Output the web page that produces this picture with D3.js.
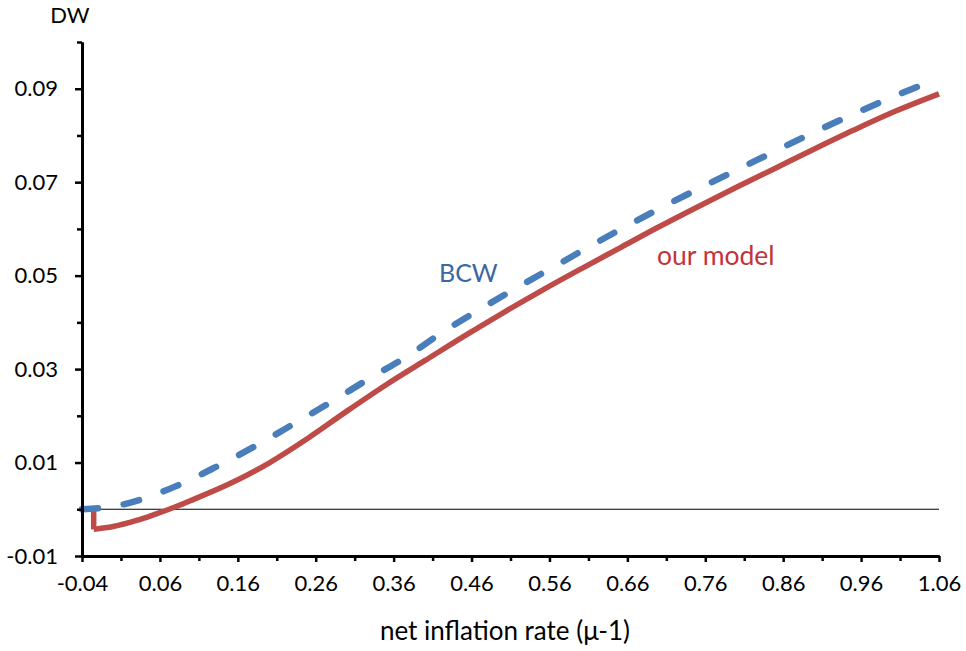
<!DOCTYPE html>
<html>
<head>
<meta charset="utf-8">
<script src="https://cdn.jsdelivr.net/npm/d3@7"></script>
<style>
  body { margin: 0; background: #fff; }
  text { font-family: Lato, "Open Sans", sans-serif; fill: #000; }
</style>
</head>
<body>
<div id="chart"></div>
<script>
// our model (red, solid)
var ourX = [-0.025, -0.025, 0, 0.03, 0.05, 0.07, 0.1, 0.15, 0.2, 0.25, 0.3, 0.35, 0.4, 0.45,
  0.5, 0.55, 0.6, 0.65, 0.7, 0.75, 0.8, 0.85, 0.9, 0.95, 1.0, 1.06];
var ourDW = [0, -0.0043, -0.0037, -0.0024, -0.0013, -0.0001, 0.0019, 0.0055, 0.0099, 0.0152, 0.0210,
  0.0266, 0.0318, 0.0370, 0.0420, 0.0468, 0.0514, 0.0559, 0.0604, 0.0647, 0.0689, 0.0730,
  0.0771, 0.0811, 0.0849, 0.0889];

// BCW (blue, dashed)
var bcwX = [-0.04, -0.02, 0, 0.03, 0.08, 0.13, 0.18, 0.23, 0.28, 0.33, 0.38, 0.42, 0.47, 0.52,
  0.57, 0.61, 0.66, 0.71, 0.76, 0.81, 0.86, 0.91, 0.96, 1.01, 1.06];
var bcwDW = [0, 0.0002, 0.0006, 0.0018, 0.0049, 0.0089, 0.0133, 0.0181, 0.0230, 0.0281, 0.0330,
  0.0376, 0.0427, 0.0476, 0.0523, 0.0561, 0.0607, 0.0651, 0.0693, 0.0734, 0.0775, 0.0815,
  0.0853, 0.0889, 0.0922];

// ticks
var xMajor = [-0.04, 0.06, 0.16, 0.26, 0.36, 0.46, 0.56, 0.66, 0.76, 0.86, 0.96, 1.06];
var xMinor = [0.01, 0.11, 0.21, 0.31, 0.41, 0.51, 0.61, 0.71, 0.81, 0.91, 1.01];
var yMajor = [-0.01, 0.01, 0.03, 0.05, 0.07, 0.09];
var yMinor = [0, 0.02, 0.04, 0.06, 0.08, 0.1];

var width = 966,
  height = 651,
  margin = { top: 42, right: 27, bottom: 95, left: 82 };

var x = d3.scaleLinear().domain([-0.04, 1.06]).range([margin.left, width - margin.right]);
var y = d3.scaleLinear().domain([-0.01, 0.1]).range([height - margin.bottom, margin.top]);

var svg = d3.select("#chart")
  .append("svg")
  .attr("width", width)
  .attr("height", height);

// zero line
svg.append("line")
  .attr("x1", x(-0.04)).attr("x2", x(1.06))
  .attr("y1", y(0)).attr("y2", y(0))
  .attr("stroke", "#000")
  .attr("stroke-width", 1.2);

var line = d3.line()
  .x(function(d) { return x(d[0]); })
  .y(function(d) { return y(d[1]); });

var ourPts = ourX.map(function(v, i) { return [v, ourDW[i]]; });
var bcwPts = bcwX.map(function(v, i) { return [v, bcwDW[i]]; });

// the drop at the start of our model, then the smooth curve
svg.append("path")
  .attr("d", line(ourPts.slice(0, 2)))
  .attr("fill", "none")
  .attr("stroke", "#BE4B48")
  .attr("stroke-width", 5.5);

svg.append("path")
  .attr("d", line.curve(d3.curveMonotoneX)(ourPts.slice(1)))
  .attr("fill", "none")
  .attr("stroke", "#BE4B48")
  .attr("stroke-width", 5.5)
  .attr("stroke-linejoin", "round");

svg.append("path")
  .attr("d", line.curve(d3.curveMonotoneX)(bcwPts))
  .attr("fill", "none")
  .attr("stroke", "#4A7EBB")
  .attr("stroke-width", 6.5)
  .attr("stroke-linecap", "round")
  .attr("stroke-dasharray", "16,26");

// axes
function styleAxis(g) {
  g.select(".domain").attr("stroke", "#000").attr("stroke-width", 3);
  g.selectAll(".tick line").attr("stroke", "#000").attr("stroke-width", 2.5);
  g.selectAll(".tick text").style("font-size", "22px").attr("fill", "#000");
}

svg.append("g")
  .attr("transform", "translate(0," + y(-0.01) + ")")
  .call(d3.axisBottom(x).tickValues(xMinor).tickSize(5).tickSizeOuter(0).tickFormat(""))
  .call(styleAxis);

svg.append("g")
  .attr("transform", "translate(0," + y(-0.01) + ")")
  .call(d3.axisBottom(x).tickValues(xMajor).tickSize(6).tickSizeOuter(0).tickPadding(13)
    .tickFormat(function(d) { return d.toFixed(2); }))
  .call(styleAxis);

svg.append("g")
  .attr("transform", "translate(" + x(-0.04) + ",0)")
  .call(d3.axisLeft(y).tickValues(yMinor).tickSize(5).tickSizeOuter(0).tickFormat(""))
  .call(styleAxis);

svg.append("g")
  .attr("transform", "translate(" + x(-0.04) + ",0)")
  .call(d3.axisLeft(y).tickValues(yMajor).tickSize(7).tickPadding(17)
    .tickSizeOuter(0).tickFormat(function(d) { return d.toFixed(2); }))
  .call(styleAxis);

// titles and labels
svg.append("text")
  .attr("x", 70).attr("y", 23)
  .attr("text-anchor", "middle")
  .style("font-size", "22px")
  .text("DW");

svg.append("text")
  .attr("x", 505).attr("y", 640)
  .attr("text-anchor", "middle")
  .style("font-size", "26px")
  .text("net inflation rate (μ-1)");

svg.append("text")
  .attr("x", 439).attr("y", 282)
  .style("font-size", "25px")
  .style("fill", "#3B68A2")
  .text("BCW");

svg.append("text")
  .attr("x", 657).attr("y", 265)
  .style("font-size", "26.5px")
  .style("fill", "#C1343A")
  .text("our model");
</script>
</body>
</html>
